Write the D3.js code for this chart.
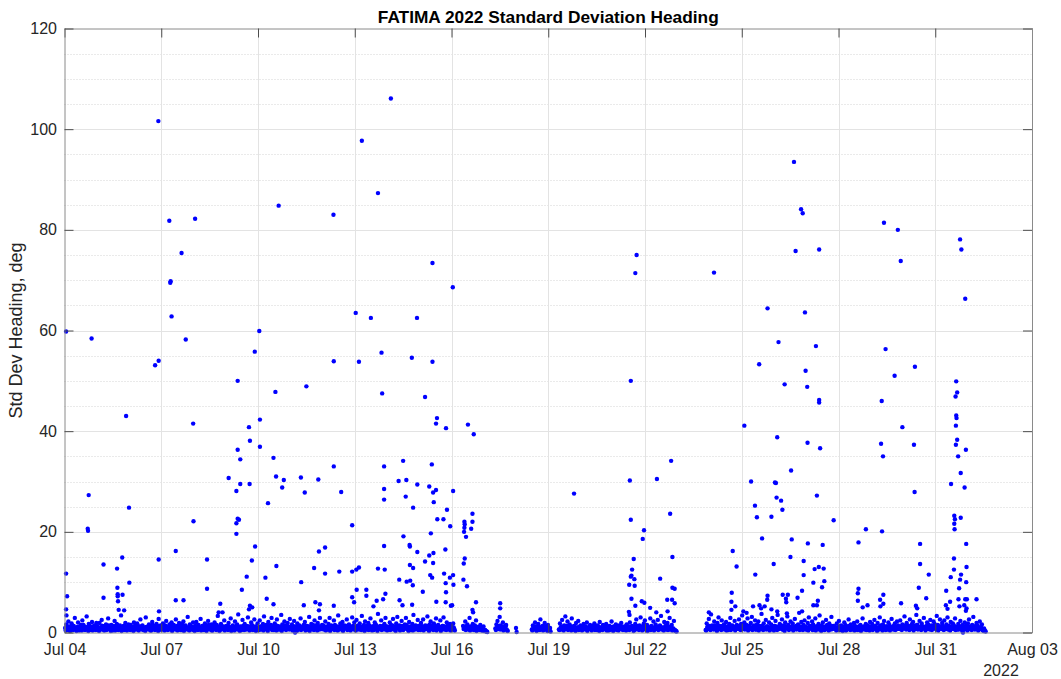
<!DOCTYPE html>
<html><head><meta charset="utf-8">
<script src="https://cdn.jsdelivr.net/npm/d3@7"></script>
<style>
html,body{margin:0;padding:0;background:#fff;}
svg{display:block;}
text{font-family:"Liberation Sans",Arial,Helvetica,sans-serif;}
</style></head>
<body>
<svg id="chart" width="1061" height="679"></svg>
<script>
// ---------------- DATA ----------------
const chartTitle = "FATIMA 2022 Standard Deviation Heading";
const yLabel = "Std Dev Heading, deg";
const yearLabel = "2022";
const startDate = Date.UTC(2022, 6, 4);      // Jul 04 2022
const xTickDays = [0, 3, 6, 9, 12, 15, 18, 21, 24, 27, 30];
const xTickLabels = ["Jul 04","Jul 07","Jul 10","Jul 13","Jul 16","Jul 19","Jul 22","Jul 25","Jul 28","Jul 31","Aug 03"];
const yTicks = [0, 20, 40, 60, 80, 100, 120];
const yMinorTicks = [5,10,15,25,30,35,45,50,55,65,70,75,85,90,95,105,110,115];

// baseline records: regular sampling (days), start of each continuous recording segment (days after Jul 04)
const sampleStep = 1/60;
const segStarts = [0.02, 12.36, 13.36, 14.49, 15.33, 19.88];
// first-half readings of each sampling pair (upper part of the band)
const baseA = [
.9,1.6,.5,2.2,1.1,.4,1.8,.8,1.3,2.9,.7,1.0,2.0,.4,1.2,.9,2.4,1.5,.6,1.1,3.2,.8,1.7,.5,1.2,2.1,.9,1.4,.6,1.9,
1.2,.6,1.9,.9,2.5,1.3,.5,1.0,1.6,.8,2.8,1.1,.7,1.5,.4,1.3,2.3,.9,1.7,.6,1.0,1.4,3.4,.8,1.2,.5,1.9,1.1,.7,1.6,
.8,1.5,1.0,.6,2.0,1.3,.9,1.8,.5,1.2,2.6,.7,1.4,1.0,.6,3.0,1.1,.8,1.6,1.2,.4,2.1,.9,1.3,.7,1.7,1.0,2.7,.6,1.4,
1.1,1.8,.7,1.4,2.3,1.0,.6,1.6,1.2,2.0,.9,1.5,.8,2.6,1.3,.7,1.9,1.1,.5,1.7,2.2,.9,1.4,1.0,3.1,.8,1.6,1.2,.6,2.0,
.9,1.3,2.1,.6,1.5,1.0,2.7,.8,1.2,.5,1.8,1.4,.7,2.3,1.1,.9,1.6,.4,1.3,2.0,.8,1.5,3.3,1.0,.6,1.7,1.2,.9,2.4,1.1,
1.3,.7,1.9,1.0,2.8,.6,1.4,1.1,2.2,.8,1.6,3.6,.9,1.2,.5,2.5,1.0,1.7,.7,1.3,3.0,1.1,.8,2.0,1.4,.6,2.6,1.2,.9,1.8,
.8,2.4,1.2,.6,1.7,3.2,1.0,1.5,.7,2.1,1.3,.9,2.9,1.1,.5,1.8,1.4,2.6,.8,1.2,.6,3.5,1.6,1.0,2.2,.7,1.3,1.9,1.1,2.7,
1.0,1.6,.7,2.3,1.2,.9,1.8,.6,1.4,2.8,1.1,.8,1.5,2.1,.5,1.3,1.0,3.1,.9,1.7,1.2,.6,2.4,1.4,.8,1.9,1.1,2.9,.7,1.5,
1.4,.8,2.2,1.1,.6,1.7,2.9,1.0,1.3,.7,2.4,1.5,.9,1.2,3.4,.6,1.8,1.1,2.1,.8,1.4,1.0,2.6,.7,1.6,1.2,.9,3.0,1.3,2.0,
.9,2.5,1.3,.7,1.8,1.1,3.3,.8,1.5,2.2,1.0,.6,1.9,1.4,2.8,.9,1.2,.5,2.0,1.6,1.0,3.7,.8,1.3,2.4,1.1,.7,1.7,2.9,1.2,
1.1,.7,2.0,1.5,.9,2.7,1.2,.6,1.8,3.1,1.0,1.4,.8,2.3,1.3,.9,1.6,2.9,.7,1.2,2.1,1.0,.5,1.7,3.5,1.1,1.4,.8,2.5,1.3,
.8,1.9,1.2,2.6,.7,1.4,1.0,3.2,.9,1.6,2.2,1.1,.6,1.8,1.3,2.8,.8,1.5,1.0,2.4,.7,1.3,3.0,1.2,.9,2.0,1.4,.6,1.7,1.1,
1.0,1.8,.7];
const baseB = [1.3,.8,2.2,1.0,1.6,.6,2.9,1.2,.9,1.7,.5,1.4,2.4,.8,1.1,.6,1.5,.9,.4,1.2,.5,.3,.2];
const baseC = [.8,1.6,2.3,1.0,3.1,1.4,.7,2.0,1.2,.9,1.5,.4];
const baseE = [.6,1.4,.9,2.0,1.2,.5,1.7,1.0,2.6,.8,1.3,.6,1.9,1.1,.7,1.5,.4,.9];
const baseF = [
.6,1.8,1.1,2.5,.9,1.4,3.2,1.0,2.2,.7,1.6,1.2,2.8,.8,1.3,.5,1.9,1.0,2.3,.7,1.4,1.1,.6,1.7,.9,1.2,2.0,.8,1.0,1.5,
.7,1.3,.9,1.8,1.1,.5,1.4,.8,2.1,1.0,.6,1.5,1.2,.8,1.7,.9,.4,1.3,1.0,2.2,.7,1.2,.9,1.6,.5,1.1,1.4,.8,1.9,1.0,
.8,1.2,.6,1.6,1.0,.9,2.0,.7,1.3,1.1,.5,1.7,2.6,1.0,.8,1.4,3.0,1.2,.6,1.8,2.4,.9,1.5,1.1,.7,2.8,1.3,1.0,2.2,.8,
1.6,1.1,2.5,.7,1.4,3.3,1.0,.8,2.1,1.3,.6,1.9,1.2,2.9,.9,1.5,.7,2.3,.5,.3];
const baseG = [
.5,1.8,1.2,2.7,.9,3.6,1.4,.8,2.2,1.1,.6,1.9,3.0,1.3,.7,2.4,1.0,1.6,.9,2.1,1.2,.5,1.7,2.9,1.0,1.4,.8,2.3,1.1,1.5,
1.3,2.6,.9,1.7,3.4,1.1,2.0,.8,1.5,2.8,1.2,.7,1.9,3.1,1.0,1.4,2.4,.6,1.6,2.2,1.3,.9,3.7,1.1,1.8,.7,2.5,1.2,1.0,2.0,
1.0,1.6,2.9,.8,1.3,2.3,1.1,3.5,.9,1.7,1.2,2.6,.6,1.4,2.0,1.0,3.2,1.5,.8,2.2,1.1,1.8,.7,2.7,1.3,.9,1.6,3.9,1.2,2.1,
.8,1.5,2.4,1.1,.6,1.9,3.0,1.3,.9,2.2,1.6,.7,2.8,1.2,1.0,1.7,3.4,.8,1.4,2.0,1.1,.6,2.5,1.5,.9,1.8,1.2,3.1,.7,1.3,
1.2,.7,1.8,1.0,2.3,.6,1.4,1.1,.9,2.0,1.5,.5,1.2,2.6,.8,1.6,1.0,.7,1.9,1.3,.6,2.2,1.1,.9,1.5,.8,2.8,1.2,1.0,1.7,
.9,1.4,.6,2.1,1.1,1.7,.8,2.5,1.3,.7,1.9,1.0,3.0,1.4,.8,1.6,2.3,.9,1.2,.6,2.0,1.5,1.1,2.7,.8,1.3,1.8,1.0,2.2,1.4,
1.1,2.4,.8,1.6,1.2,3.2,.9,1.9,1.4,.7,2.6,1.0,1.7,2.1,1.3,.8,3.5,1.5,1.0,2.3,.9,1.8,1.2,2.9,1.1,.7,2.0,1.6,1.3,2.5,
1.4,.9,2.2,1.7,1.1,3.3,1.5,.8,2.6,1.2,1.9,1.0,2.4,.7,1.6,3.0,1.3,1.1,2.1,.9,1.8,1.4,2.8,1.0,.6,1.7,1.2,2.3,.8,1.5,
1.0,2.0,1.3,.7,1.8,2.6,1.1,.9,1.5,3.1,1.2,.8,1.9,1.4,.6,2.2,1.0,1.6,.5,.8,.3];
// second-half readings of each sampling pair (lower, denser part of the band)
const lowA = [
.4,.9,.6,1.2,.3,.8,1.4,.5,1.0,.7,.3,1.1,.6,.9,1.5,.4,.8,1.2,.5,.7,1.0,.3,1.3,.6,.9,.4,1.1,.8,.5,1.2,
.7,.3,1.0,.6,1.3,.8,.4,1.1,.5,.9,1.4,.6,.3,1.0,.7,1.2,.4,.8,1.5,.5,1.1,.7,.3,.9,1.3,.6,1.0,.4,.8,1.1,
.5,1.1,.8,.3,1.2,.6,.9,1.4,.4,1.0,.7,1.3,.5,.8,.3,1.1,.9,.6,1.2,.4,1.0,1.5,.7,.5,1.1,.8,.3,1.3,.6,.9,
.6,1.0,.4,1.3,.8,.5,1.1,.7,1.6,.3,.9,1.2,.6,1.0,.4,.8,1.4,.5,1.1,.7,.3,1.2,.9,.6,1.0,.4,1.3,.7,1.1,.5,
.3,.8,1.2,.5,1.0,.7,.4,1.3,.9,.6,1.1,.3,.8,1.5,.6,1.0,.4,.9,1.2,.7,.5,1.1,.8,.3,1.4,.6,.9,1.2,.4,1.0,
.9,.5,1.1,.7,.3,1.2,.8,.4,1.0,1.4,.6,.9,.3,1.1,.7,1.3,.5,1.0,.6,.8,1.2,.4,.9,1.5,.5,.7,1.1,.3,1.0,.6,
.5,1.0,.7,1.3,.4,.9,1.1,.6,.3,1.2,.8,1.5,.5,.9,.7,1.1,.4,1.3,.6,1.0,.8,.3,1.2,.7,1.4,.5,.9,1.0,.6,1.1,
.8,.4,1.2,.6,1.0,.3,.9,1.3,.7,.5,1.1,.8,1.4,.4,1.0,.6,1.2,.3,.9,.7,1.5,.5,1.1,.8,.4,1.3,.6,1.0,.7,.9,
.6,1.2,.4,.9,1.1,.7,.3,1.4,.8,1.0,.5,1.2,.7,.4,1.1,.9,1.6,.6,.3,1.0,.8,1.3,.5,.9,1.1,.4,.7,1.2,.6,1.0,
.4,.8,1.3,.6,1.0,.5,1.2,.9,.3,1.1,.7,1.4,.5,1.0,.8,.4,1.2,.6,1.5,.9,.3,1.1,.7,1.0,.5,1.3,.8,.6,1.2,.4,
.7,1.1,.5,1.0,1.4,.6,.9,.3,1.2,.8,1.0,.4,1.3,.7,.5,1.1,.9,1.5,.6,.3,1.0,1.2,.8,.4,1.1,.6,1.3,.9,.5,1.0,
.5,.9,1.2,.4,1.0,.7,1.3,.6,.3,1.1,.8,1.4,.5,.9,1.2,.4,1.0,.7,1.1,.3,.8,1.3,.6,1.0,.5,.9,1.2,.7,.4,1.1,
.6,1.0,.4];
const lowB = [.7,1.1,.5,1.3,.8,1.0,.4,.9,1.2,.6,1.0,.7,.3,1.1,.8,.5,.9,.4,.7,.3,.5,.2,.1];
const lowC = [.5,1.0,.7,1.3,.6,.9,1.1,.4,.8,1.2,.6,.3];
const lowE = [.4,.9,.6,1.1,.3,.8,1.2,.5,1.0,.7,.4,1.1,.6,.9,.3,.8,.5,.2];
const lowF = [
.5,.9,.6,1.2,.4,1.0,.7,1.3,.5,.8,1.1,.4,.9,.6,1.2,.3,.8,1.0,.5,1.1,.7,.4,.9,1.2,.6,.8,.3,1.0,.7,1.1,
.4,.8,1.1,.5,.9,.6,1.2,.3,.7,1.0,.5,.9,1.3,.6,.4,1.0,.8,.5,1.1,.7,.3,.9,1.2,.6,.8,.4,1.0,.7,1.1,.5,
.6,1.0,.4,.9,1.2,.5,.8,1.1,.7,.3,1.0,.6,1.3,.8,.5,.9,1.1,.4,.7,1.2,.6,.9,.3,1.0,.8,.5,1.1,.7,.4,.9,
.7,1.1,.5,.9,1.2,.6,.8,.4,1.0,.7,1.3,.5,.9,.6,1.1,.4,.8,.5,.3,.2];
const lowG = [
.4,1.0,.7,1.3,.5,.9,1.1,.6,1.4,.8,.3,1.2,.7,1.0,.5,1.3,.9,.6,1.1,.4,1.0,.8,1.5,.5,.9,1.2,.7,.4,1.1,.8,
.7,1.2,.5,1.0,.8,1.4,.6,.9,1.1,.4,1.3,.7,1.0,.5,1.2,.9,.6,1.5,.8,.4,1.1,.7,1.3,.5,1.0,.8,.6,1.2,.9,.4,
.6,1.1,.8,.4,1.3,.9,.5,1.2,.7,1.0,1.4,.6,.9,.3,1.1,.8,1.3,.5,1.0,.7,1.2,.4,.9,1.1,.6,1.4,.8,.5,1.0,.7,
.5,.9,1.2,.6,1.0,.4,1.1,.8,1.3,.5,.7,1.0,.4,1.2,.9,.6,1.1,.3,.8,1.0,.5,1.2,.7,.9,.4,1.1,.6,1.3,.8,1.0,
.8,.4,1.0,.6,1.2,.5,.9,.3,1.1,.7,.4,1.0,.8,1.3,.5,.9,.6,1.1,.4,.8,1.0,.5,1.2,.7,.3,.9,1.1,.6,.8,.5,
.6,1.0,.4,.8,1.2,.5,.9,1.1,.7,.3,1.0,.6,1.3,.8,.4,1.1,.9,.5,1.2,.7,1.0,.4,.8,1.1,.6,1.3,.5,.9,.7,1.0,
.7,1.2,.5,1.0,.8,1.4,.6,.9,1.1,.5,1.3,.7,1.0,.4,1.2,.8,1.5,.6,.9,1.1,.5,1.2,.8,1.0,.4,1.3,.7,1.1,.6,.9,
.5,1.1,.8,1.3,.6,1.0,.4,1.2,.9,.7,1.4,.5,1.0,.8,1.1,.6,1.3,.4,.9,1.2,.7,1.0,.5,1.1,.8,.6,1.2,.9,.4,1.0,
.6,1.0,.8,.4,1.1,.7,1.2,.5,.9,1.0,.6,1.3,.8,.4,1.0,.7,.9,.5,.3,.4,.2];

// individual readings above the baseline band (day after Jul 04, deg)
const spikeDays = [
2.91,10.12,9.22,9.72,6.64,8.34,3.25,4.05,3.63,3.28,3.29,11.41,12.04,3.32,9.03,9.5,10.93,0.05,0.84,3.76,6.04,5.9,2.81,2.92,8.35,9.13,9.83,10.77,11.41,5.37,6.54,7.5,9.85,11.18,1.91,3.99,5.72,6.06,11.55,11.52,11.83,12.51,12.69,
22.62,22.84,22.89,25.41,25.84,27.77,27.81,17.74,17.7,20.14,22.67,23.4,25.93,27.93,21.8,22.96,22.14,23.3,25.46,21.54,22.98,26.37,25.74,17.56,27.65,22.33,23.03,27.68,27.63,23.4,23.4,25.34,27.65,27.66,21.08,25.98,27.64,22.1,
5.75,6.06,5.37,5.45,6.48,5.09,5.45,5.74,5.33,6.56,6.8,6.75,7.33,7.45,0.75,2.0,6.31,4.0,5.33,5.37,5.41,5.33,0.72,0.73,0.05,0.08,0.05,0.06,1.21,1.79,1.63,2.01,1.21,1.64,1.65,1.65,1.66,1.8,1.68,1.85,2.92,3.45,3.45,3.69,2.93,4.42,4.42,4.83,5.91,5.81,6.57,5.65,5.5,6.23,7.34,7.42,6.27,6.48,5.75,5.82,5.72,4.78,4.9,7.15,
7.87,8.35,8.58,9.91,9.91,9.91,10.5,10.36,10.6,10.58,10.94,10.81,11.39,11.31,11.43,11.52,11.45,12.05,11.86,11.56,11.75,11.96,12.4,12.41,12.4,12.39,12.45,12.65,12.65,12.61,8.92,10.51,11.36,9.91,10.7,10.71,10.94,11.31,11.44,11.43,11.81,11.18,7.89,8.08,7.74,8.08,8.52,8.92,9.05,9.13,9.72,9.93,10.71,10.81,10.38,10.61,10.72,10.8,11.34,11.4,11.77,11.82,11.95,12.05,12.06,12.37,12.48,12.38,12.41,9.06,9.36,9.36,9.95,9.88,8.92,8.98,11.11,11.83,11.82,11.53,12.02,12.76,10.39,10.48,10.78,9.68,9.58,8.35,7.78,7.92,7.89,13.51,13.51,12.65,12.67,11.98,14.0,14.02,
15.8,17.53,18.37,18.81,18.78,17.56,17.97,17.93,17.65,17.6,17.58,17.56,17.67,17.51,17.68,18.47,18.85,18.85,18.92,17.58,17.9,17.98,17.7,18.16,18.69,18.84,18.92,18.35,18.7,17.5,17.52,20.72,20.84,20.69,20.68,20.8,20.68,19.98,21.29,21.41,21.47,22.03,22.06,22.08,22.22,22.26,21.92,21.63,21.99,21.42,21.8,21.79,22.27,21.35,21.55,21.6,21.71,21.92,22.1,21.05,21.15,
23.04,23.43,25.32,25.38,26.34,27.68,27.64,27.71,27.95,27.79,27.91,27.49,22.53,23.33,23.85,26.36,24.85,25.35,27.59,27.61,27.59,27.6,27.79,22.55,23.05,23.51,22.51,22.92,23.26,23.39,23.54,22.92,23.22,23.56,23.49,22.87,22.43,22.73,22.37,22.38,23.36,23.22,23.33,22.87,22.4,24.62,24.62,24.6,24.6,24.75,24.9,25.39,25.29,25.39,25.3,25.94,26.53,26.53,26.8,26.49,26.72,26.4,26.44,27.34,27.46,27.33,27.38,27.58,27.58,27.48,27.8,27.77,27.74,27.96,27.97,27.96,27.72,27.93,27.98,28.28,27.75,27.9,27.97,27.95,27.86];
const spikeVals = [
101.6,106.1,97.7,87.3,84.8,83.0,81.8,82.2,75.4,69.5,69.8,73.4,68.6,62.8,63.5,62.5,62.5,59.8,58.4,58.2,59.9,55.8,53.1,54.0,53.9,53.8,55.6,54.6,53.8,50.0,47.8,48.9,47.5,46.8,43.0,41.5,40.8,42.3,42.6,41.5,40.6,41.3,39.4,
93.5,84.1,83.3,81.4,80.0,78.1,76.1,75.0,71.4,71.5,75.8,76.1,73.8,66.3,64.4,63.6,57.7,56.9,56.3,53.3,52.0,52.8,51.0,50.0,49.9,49.3,48.8,47.7,46.9,46.2,45.7,46.0,43.1,42.6,41.1,40.8,41.1,38.8,
38.1,36.9,36.3,34.4,34.7,30.7,29.5,29.5,28.1,31.0,30.3,28.8,30.8,27.8,27.3,24.8,25.7,22.1,21.7,22.6,22.4,19.6,20.6,20.2,11.7,7.2,4.6,3.4,13.5,14.9,12.7,9.9,6.9,8.9,7.6,7.2,6.2,7.5,4.5,4.4,14.5,16.2,6.4,6.4,4.2,14.5,8.7,5.7,17.1,14.3,13.2,11.1,8.5,10.9,10.0,5.4,6.7,5.6,5.3,5.0,4.6,4.0,4.0,0.0,
30.4,33.0,27.9,33.0,28.5,26.4,34.1,30.1,30.3,27.0,29.4,24.8,33.4,29.0,27.8,28.3,25.9,28.1,24.4,22.5,22.5,21.1,22.0,21.5,20.8,20.0,19.0,23.6,22.0,20.6,21.3,19.1,19.7,17.2,17.4,17.1,16.0,15.3,15.8,13.8,16.5,14.1,16.1,16.9,12.8,11.7,12.1,12.1,12.5,12.9,12.7,12.5,13.4,12.8,10.5,10.1,10.3,9.4,11.4,10.9,11.7,9.8,10.9,11.4,9.5,10.5,9.2,13.7,14.7,8.5,8.5,7.3,7.7,6.6,7.0,6.0,8.1,8.0,6.0,6.1,5.4,6.0,6.4,5.4,5.5,6.3,5.2,5.3,6.0,5.6,4.4,5.8,4.8,4.5,4.0,5.3,0.9,0.1,
27.6,30.2,30.5,34.1,23.6,22.4,20.3,18.6,14.6,12.5,11.3,11.1,10.6,9.5,9.3,10.7,15.0,8.9,8.7,6.7,6.2,5.9,5.3,4.9,6.5,6.5,5.8,4.0,4.2,4.1,3.5,16.2,13.1,7.9,6.1,5.2,4.5,4.0,30.0,25.2,22.9,29.8,29.7,26.8,26.2,24.4,23.0,18.7,13.6,11.5,7.3,6.5,7.5,5.2,5.4,4.8,5.2,4.6,4.2,4.2,3.9,
37.7,36.6,37.5,35.0,37.3,38.3,37.3,35.0,36.3,31.7,28.8,29.5,32.2,27.2,22.3,27.9,20.5,20.1,23.2,22.5,21.6,20.5,22.8,18.5,17.7,17.4,15.0,14.2,12.6,13.0,12.7,11.4,9.9,10.2,9.0,8.3,7.5,6.9,6.7,6.0,6.3,5.4,5.4,4.2,3.8,17.9,8.7,7.8,6.3,5.0,5.4,7.5,6.5,5.7,5.2,5.8,17.6,13.6,11.5,8.9,6.8,5.3,4.8,8.3,6.1,5.4,4.7,14.7,12.5,11.0,11.5,10.5,8.8,17.6,13.0,10.0,6.6,6.6,6.6,6.6,5.2,5.4,4.8,4.3,0.0];

// ---------------- CHART ----------------
const W = 1061, H = 679;
const margin = {left: 64.5, right: W - 1032, top: 28.5, bottom: H - 632.5};
const svg = d3.select("#chart");
const dayMs = 864e5;
const toDate = d => new Date(startDate + d * dayMs);

const x = d3.scaleUtc()
  .domain([toDate(xTickDays[0]), toDate(xTickDays[xTickDays.length - 1])])
  .range([margin.left, W - margin.right]);
const y = d3.scaleLinear().domain([0, 120]).range([H - margin.bottom, margin.top]);

// assemble points: each segment interleaves the two readings of every sampling pair
const points = [];
const upper = [baseA, baseB, baseC, baseE, baseF, baseG];
const lower = [lowA, lowB, lowC, lowE, lowF, lowG];
upper.forEach((arr, si) => {
  arr.forEach((v, i) => points.push({t: toDate(segStarts[si] + (2 * i) * sampleStep), v}));
  lower[si].forEach((v, i) => points.push({t: toDate(segStarts[si] + (2 * i + 1) * sampleStep), v}));
});
spikeDays.forEach((d, i) => points.push({t: toDate(d), v: spikeVals[i]}));

const x0 = margin.left, x1 = W - margin.right, y0 = H - margin.bottom, y1 = margin.top;

// minor grid (y)
svg.append("g").selectAll("line").data(yMinorTicks).join("line")
  .attr("x1", x0).attr("x2", x1)
  .attr("y1", d => Math.round(y(d)) + 0.5).attr("y2", d => Math.round(y(d)) + 0.5)
  .attr("stroke", "#d4d4d4").attr("stroke-width", 1).attr("stroke-dasharray", "1,2");

// major grid
svg.append("g").selectAll("line").data(yTicks.slice(1, -1)).join("line")
  .attr("x1", x0).attr("x2", x1)
  .attr("y1", d => Math.round(y(d)) + 0.5).attr("y2", d => Math.round(y(d)) + 0.5)
  .attr("stroke", "#e3e3e3").attr("stroke-width", 1);
svg.append("g").selectAll("line").data(xTickDays.slice(1, -1)).join("line")
  .attr("x1", d => Math.round(x(toDate(d))) + 0.5).attr("x2", d => Math.round(x(toDate(d))) + 0.5)
  .attr("y1", y1).attr("y2", y0)
  .attr("stroke", "#e3e3e3").attr("stroke-width", 1);

// points
svg.append("g").selectAll("circle").data(points).join("circle")
  .attr("cx", d => x(d.t)).attr("cy", d => y(d.v)).attr("r", 2.2)
  .attr("fill", "#0000ff");

// axes (box)
const tickCol = "#4d4d4d";
const xAxisB = d3.axisBottom(x).tickValues(xTickDays.map(toDate))
  .tickFormat((d, i) => xTickLabels[i]).tickSizeInner(-9).tickSizeOuter(0).tickPadding(11);
const gxb = svg.append("g").attr("transform", `translate(0,${y0})`).call(xAxisB);
const xAxisT = d3.axisTop(x).tickValues(xTickDays.map(toDate)).tickFormat("").tickSizeInner(-9).tickSizeOuter(0);
const gxt = svg.append("g").attr("transform", `translate(0,${y1})`).call(xAxisT);
const yAxisL = d3.axisLeft(y).tickValues(yTicks).tickSizeInner(-9).tickSizeOuter(0).tickPadding(7.5);
const gyl = svg.append("g").attr("transform", `translate(${x0},0)`).call(yAxisL);
const yAxisR = d3.axisRight(y).tickValues(yTicks).tickFormat("").tickSizeInner(-9).tickSizeOuter(0);
const gyr = svg.append("g").attr("transform", `translate(${x1},0)`).call(yAxisR);

[gxb, gxt, gyl, gyr].forEach(g => {
  g.select(".domain").attr("stroke", "#8a8a8a").attr("stroke-width", 1);
  g.selectAll(".tick line").attr("stroke", tickCol);
  g.selectAll(".tick text").attr("fill", "#262626").style("font-size", "16px")
    .style("font-family", '"Liberation Sans",Arial,Helvetica,sans-serif');
});

// year label
svg.append("text").attr("x", 1001).attr("y", 676).attr("text-anchor", "middle")
  .attr("fill", "#262626").style("font-size", "16px").text(yearLabel);

// y label
svg.append("text").attr("transform", `translate(22,${(y0 + y1) / 2}) rotate(-90)`)
  .attr("text-anchor", "middle").attr("fill", "#262626").style("font-size", "18px").text(yLabel);

// title
svg.append("text").attr("x", (x0 + x1) / 2).attr("y", 23).attr("text-anchor", "middle")
  .attr("fill", "#000").style("font-size", "17.3px").style("font-weight", "bold").text(chartTitle);
</script>
</body></html>
